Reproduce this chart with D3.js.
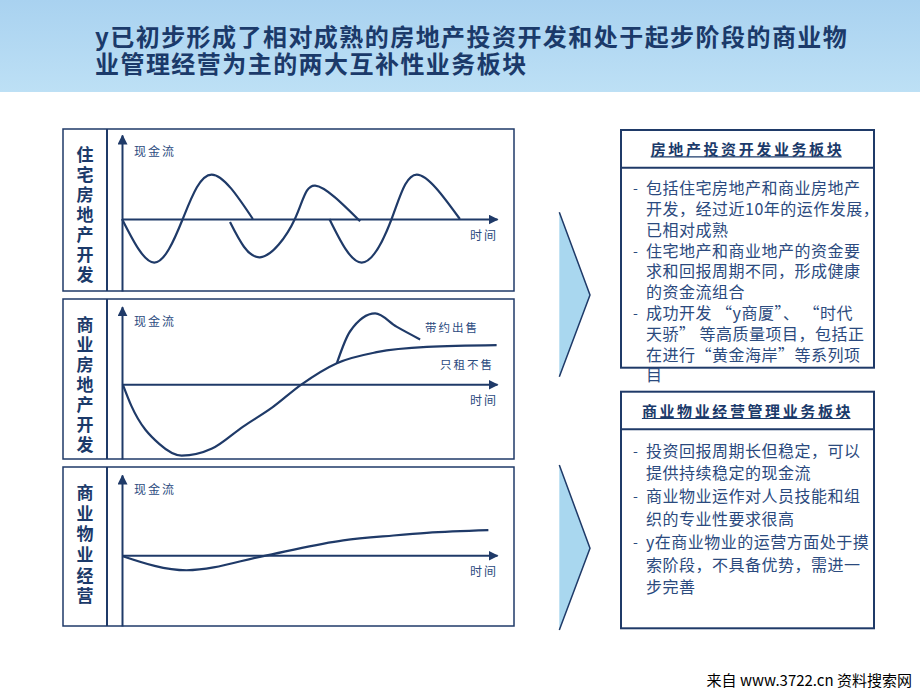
<!DOCTYPE html>
<html><head><meta charset="utf-8">
<script src="https://cdn.jsdelivr.net/npm/d3@7"></script>
<style>
body{margin:0;background:#fff;}
svg{display:block;}
text{font-family:"Noto Sans CJK SC","Noto Sans",sans-serif;}
.fo{font-family:"Noto Sans CJK SC","Noto Sans",sans-serif;margin:0;padding:0;}
.fo div{white-space:nowrap;position:relative;}
</style></head>
<body>
<svg id="c" width="920" height="690"></svg>
<script>
// ---------- data ----------
const titleLines = ["y已初步形成了相对成熟的房地产投资开发和处于起步阶段的商业物", "业管理经营为主的两大互补性业务板块"];
const panelLabels = ["住宅房地产开发", "商业房地产开发", "商业物业经营"];
const yAxisLabel = "现金流";
const xAxisLabel = "时间";
// panel 1: residential – three overlapping project cycles [time, cash]
const residentialCycle1 = [[0,0],[8.6,-9.9],[16.2,0],[23.9,10.1],[34.9,0]];
const residentialCycle2 = [[28.8,-0.7],[36.8,-8.7],[46.1,0],[51.5,7.6],[63.5,-0.5]];
const residentialCycle3 = [[55.3,0],[63.9,-9.9],[71.9,0],[78.6,10.1],[90.1,0]];
// panel 2: commercial real estate
const commercialRentOnly = [[0.2,0],[2.5,-4.9],[10,-13.6],[15.9,-16.2],[24,-14.6],[32.3,-9.6],[40,-5.3],[47.9,0],[57.3,4.8],[67.9,7.3],[81.3,8.5],[99.9,8.9]];
const commercialSale = [[57.3,4.8],[60.8,12],[67.5,16.1],[73.2,13.1],[79.5,10.2]];
const saleLabel = "带约出售";
const rentLabel = "只租不售";
// panel 3: commercial property operation
const operationCash = [[0.2,-0.2],[17.2,-3.4],[38.6,0],[59,3.4],[72.4,4.5],[81.3,5.1],[97.7,5.7]];

const box1Title = "房地产投资开发业务板块";
const box1Lines = [
  {b:true, t:"包括住宅房地产和商业房地产"},
  {b:false,t:"开发，经过近10年的运作发展，"},
  {b:false,t:"已相对成熟"},
  {b:true, t:"住宅地产和商业地产的资金要"},
  {b:false,t:"求和回报周期不同，形成健康"},
  {b:false,t:"的资金流组合"},
  {b:true, t:"成功开发 “y商厦”、 “时代"},
  {b:false,t:"天骄” 等高质量项目，包括正"},
  {b:false,t:"在进行“黄金海岸”等系列项"},
  {b:false,t:"目"}
];
const box2Title = "商业物业经营管理业务板块";
const box2Lines = [
  {b:true, t:"投资回报周期长但稳定，可以"},
  {b:false,t:"提供持续稳定的现金流"},
  {b:true, t:"商业物业运作对人员技能和组"},
  {b:false,t:"织的专业性要求很高"},
  {b:true, t:"y在商业物业的运营方面处于摸"},
  {b:false,t:"索阶段，不具备优势，需进一"},
  {b:false,t:"步完善"}
];
const footer = "来自  www.3722.cn 资料搜索网";

// ---------- layout ----------
const navy = "#1f3a68", textNavy = "#2b4a7e", titleNavy = "#1b3a6a";
const svg = d3.select("#c");
const defs = svg.append("defs");
const g1 = defs.append("linearGradient").attr("id","band").attr("x1",0).attr("y1",0).attr("x2",0).attr("y2",1);
g1.append("stop").attr("offset","0%").attr("stop-color","#a9d2f0");
g1.append("stop").attr("offset","100%").attr("stop-color","#bde0f5");
defs.append("marker").attr("id","arr").attr("viewBox","0 0 10 10").attr("refX",9).attr("refY",5)
  .attr("markerWidth",5).attr("markerHeight",5).attr("orient","auto").attr("markerUnits","strokeWidth")
  .append("path").attr("d","M0,0 L10,5 L0,10 Z").attr("fill",navy);

svg.append("rect").attr("x",0).attr("y",0).attr("width",920).attr("height",92).attr("fill","url(#band)");

// multi-line html text block
function textBlock(xp, yp, w, lineH, opts, lines){
  const fo = svg.append("foreignObject").attr("x",xp).attr("y",yp).attr("width",w).attr("height",lineH*lines.length+4);
  const div = fo.append("xhtml:div").attr("class","fo")
    .style("font-size",opts.size+"px").style("font-weight",opts.weight||"normal")
    .style("letter-spacing",(opts.ls||0)+"px").style("color",opts.color)
    .style("line-height",lineH+"px");
  lines.forEach(l=>{
    const d = div.append("xhtml:div").style("height",lineH+"px").style("padding-left",(opts.indent||0)+"px");
    if(l.b) d.append("xhtml:span").style("position","absolute").style("left","0px").style("font-size","14px").text("-");
    d.append("xhtml:span").text(l.t);
  });
}
textBlock(95, 21.5, 800, 27, {size:24, weight:"bold", ls:1.45, color:titleNavy}, titleLines.map(t=>({b:false,t})));

// panels
const boxL = 63, boxR = 514, divX = 107, axisX = 122, axisEnd = 497;
const panels = [
  {top:129, bottom:291, zero:219, yTop:135, label:panelLabels[0], series:[residentialCycle1,residentialCycle2,residentialCycle3], curve:d3.curveNatural, step:20},
  {top:299, bottom:459, zero:384.3, yTop:306.7, label:panelLabels[1], series:[commercialRentOnly,commercialSale], curve:d3.curveMonotoneX, step:20},
  {top:467, bottom:626, zero:555.3, yTop:475, label:panelLabels[2], series:[operationCash], curve:d3.curveMonotoneX, step:20.7}
];
const pxPerUnit = 4.4;
const x = d3.scaleLinear().domain([0,100]).range([axisX, axisEnd]);

panels.forEach((p,pi)=>{
  const g = svg.append("g");
  g.append("rect").attr("x",boxL).attr("y",p.top).attr("width",boxR-boxL).attr("height",p.bottom-p.top)
    .attr("fill","none").attr("stroke",navy).attr("stroke-width",1.5);
  g.append("line").attr("x1",divX).attr("x2",divX).attr("y1",p.top).attr("y2",p.bottom)
    .attr("stroke",navy).attr("stroke-width",2);
  g.append("text").attr("x",85).attr("y",p.top+17)
    .style("writing-mode","vertical-rl").style("text-orientation","upright")
    .attr("font-size",17).attr("font-weight","bold").attr("letter-spacing",p.step-17)
    .attr("fill",titleNavy).text(p.label);
  const y = d3.scaleLinear()
    .domain([(p.zero-p.bottom)/pxPerUnit, (p.zero-p.yTop)/pxPerUnit])
    .range([p.bottom, p.yTop]);
  const xa = g.append("g").attr("transform",`translate(0,${y(0)})`)
    .call(d3.axisBottom(x).tickValues([]).tickSizeOuter(0));
  xa.select(".domain").attr("stroke",navy).attr("stroke-width",2).attr("marker-end","url(#arr)");
  const ya = g.append("g").attr("transform",`translate(${x(0)},0)`)
    .call(d3.axisLeft(y).tickValues([]).tickSizeOuter(0));
  ya.select(".domain").attr("stroke",navy).attr("stroke-width",2).attr("marker-end","url(#arr)");
  g.append("text").attr("x",134).attr("y",p.top+21).attr("dominant-baseline","central")
    .attr("font-size",12).attr("letter-spacing",2).attr("fill",textNavy).text(yAxisLabel);
  g.append("text").attr("x",470).attr("y",y(0)+15).attr("dominant-baseline","central")
    .attr("font-size",12).attr("letter-spacing",2).attr("fill",textNavy).text(xAxisLabel);
  const line = d3.line().x(d=>x(d[0])).y(d=>y(d[1])).curve(p.curve);
  p.series.forEach(s=>{
    g.append("path").attr("d",line(s)).attr("fill","none").attr("stroke",navy).attr("stroke-width",2.2);
  });
  if(pi===1){
    g.append("text").attr("x",425).attr("y",326.7).attr("dominant-baseline","central")
      .attr("font-size",11.5).attr("letter-spacing",2).attr("fill",textNavy).text(saleLabel);
    g.append("text").attr("x",440).attr("y",364).attr("dominant-baseline","central")
      .attr("font-size",11.5).attr("letter-spacing",2).attr("fill",textNavy).text(rentLabel);
  }
});

// chevrons
[[212.3,295,376.7],[465,548.3,630]].forEach(a=>{
  svg.append("path").attr("d",`M559.3,${a[0]} L590,${a[1]} L559.3,${a[2]} Z`)
    .attr("fill","#a9d7ef").attr("stroke","none");
  svg.append("path").attr("d",`M559.3,${a[0]} L590,${a[1]} L559.3,${a[2]}`)
    .attr("fill","none").attr("stroke",navy).attr("stroke-width",1.5);
});

// right boxes
function box(top, headBottom, bottom, title, lines, firstY, lineH){
  const g = svg.append("g");
  g.append("rect").attr("x",621).attr("y",top).attr("width",253).attr("height",bottom-top)
    .attr("fill","#fff").attr("stroke",navy).attr("stroke-width",2);
  g.append("line").attr("x1",621).attr("x2",874).attr("y1",headBottom).attr("y2",headBottom)
    .attr("stroke",navy).attr("stroke-width",2);
  const ty = (top+headBottom)/2;
  const tt = g.append("text").attr("x",747.5).attr("y",ty).attr("text-anchor","middle").attr("dominant-baseline","central")
    .attr("font-size",15).attr("font-weight","bold").attr("letter-spacing",2.6).attr("fill",titleNavy).text(title);
  const w = tt.node().getComputedTextLength();
  g.append("line").attr("x1",747.5-w/2).attr("x2",747.5+w/2-2.6).attr("y1",ty+8).attr("y2",ty+8)
    .attr("stroke",titleNavy).attr("stroke-width",1.2);
  textBlock(633, firstY-lineH/2, 245, lineH, {size:16, ls:0.5, color:textNavy, indent:13}, lines);
}
box(130, 167.7, 367.7, box1Title, box1Lines, 187.7, 20.8);
box(391.7, 429.3, 628.3, box2Title, box2Lines, 450, 22.8);

svg.append("text").attr("x",912).attr("y",679).attr("text-anchor","end").attr("dominant-baseline","central")
  .attr("font-size",15).attr("fill","#000").text(footer);
</script>
</body></html>
